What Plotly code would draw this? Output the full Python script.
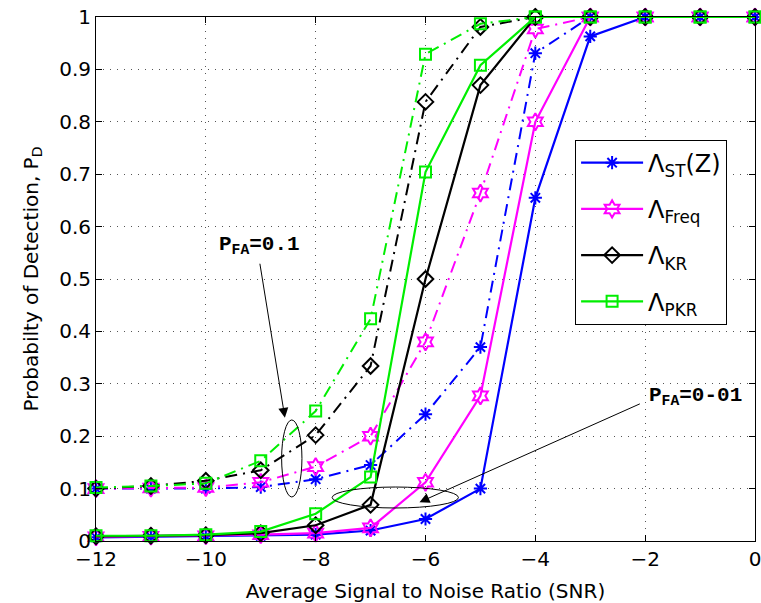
import plotly.graph_objects as go

snr = [-12, -11, -10, -9, -8, -7, -6, -5, -4, -3, -2, -1, 0]

# P_FA = 0.01 (solid)
st_001 = [0.007, 0.008, 0.009, 0.010, 0.012, 0.020, 0.042, 0.100, 0.655, 0.963, 1.0, 1.0, 1.0]
freq_001 = [0.008, 0.009, 0.010, 0.012, 0.015, 0.025, 0.112, 0.277, 0.800, 1.0, 1.0, 1.0, 1.0]
kr_001 = [0.009, 0.010, 0.011, 0.015, 0.030, 0.069, 0.500, 0.870, 1.0, 1.0, 1.0, 1.0, 1.0]
pkr_001 = [0.010, 0.010, 0.012, 0.018, 0.052, 0.122, 0.704, 0.908, 1.0, 1.0, 1.0, 1.0, 1.0]

# P_FA = 0.1 (dash-dot)
st_01 = [0.100, 0.100, 0.100, 0.103, 0.118, 0.145, 0.242, 0.370, 0.931, 1.0, 1.0, 1.0, 1.0]
freq_01 = [0.100, 0.101, 0.102, 0.112, 0.142, 0.200, 0.380, 0.664, 0.977, 1.0, 1.0, 1.0, 1.0]
kr_01 = [0.100, 0.105, 0.115, 0.135, 0.202, 0.334, 0.838, 0.981, 1.0, 1.0, 1.0, 1.0, 1.0]
pkr_01 = [0.102, 0.105, 0.110, 0.153, 0.248, 0.424, 0.929, 0.987, 1.0, 1.0, 1.0, 1.0, 1.0]

names = ["Λ<sub>ST</sub>(Z)", "Λ<sub>Freq</sub>", "Λ<sub>KR</sub>", "Λ<sub>PKR</sub>"]
colors = ["#0000ff", "#ff00ff", "#000000", "#00ee00"]
symbols = ["asterisk-open", "hexagram-open", "diamond-open", "square-open"]
msizes = [11, 13, 12, 11]
solid_sets = [st_001, freq_001, kr_001, pkr_001]
dash_sets = [st_01, freq_01, kr_01, pkr_01]

fig = go.Figure()
for i in range(4):
    fig.add_trace(go.Scatter(
        x=snr, y=dash_sets[i], mode="lines+markers", showlegend=False, cliponaxis=False,
        line=dict(color=colors[i], width=2, dash="12px,6px,2px,6px"),
        marker=dict(symbol=symbols[i], size=msizes[i], color=colors[i],
                    line=dict(color=colors[i], width=2))))
for i in range(4):
    fig.add_trace(go.Scatter(
        x=snr, y=solid_sets[i], mode="lines+markers", name=names[i], legendgroup="g%d" % i,
        cliponaxis=False,
        line=dict(color=colors[i], width=2.2),
        marker=dict(symbol=symbols[i], size=msizes[i], color=colors[i],
                    line=dict(color=colors[i], width=2))))

# ellipses
fig.add_shape(type="circle", xref="x", yref="y", x0=-8.62, x1=-8.25, y0=0.084, y1=0.231,
              line=dict(color="black", width=1))
fig.add_shape(type="circle", xref="x", yref="y", x0=-7.7, x1=-5.4, y0=0.063, y1=0.103,
              line=dict(color="black", width=1))

mono = dict(family="Liberation Mono, Courier New, monospace", size=21, color="black")
fig.add_annotation(x=-9.02, y=0.563, xref="x", yref="y", text="<b>P<sub>FA</sub>=0.1</b>",
                   showarrow=False, font=mono)
fig.add_annotation(x=-8.56, y=0.235, ax=-9.02, ay=0.532, xref="x", yref="y", axref="x", ayref="y",
                   text="", showarrow=True, arrowhead=2, arrowsize=2, arrowwidth=1, arrowcolor="black")
fig.add_annotation(x=-1.08, y=0.276, xref="x", yref="y", text="<b>P<sub>FA</sub>=0-01</b>",
                   showarrow=False, font=mono)
fig.add_annotation(x=-6.11, y=0.074, ax=-2.07, ay=0.263, xref="x", yref="y", axref="x", ayref="y",
                   text="", showarrow=True, arrowhead=2, arrowsize=2, arrowwidth=1, arrowcolor="black")

sans = "DejaVu Sans, Liberation Sans, Arial, sans-serif"
axis_common = dict(showline=True, linecolor="black", linewidth=1, mirror="allticks",
                   ticks="inside", ticklen=6, tickcolor="black",
                   showgrid=True, gridcolor="#555555", griddash="1px,6px", gridwidth=1.2,
                   zeroline=False, ticklabeloverflow="allow", automargin=False,
                   tickfont=dict(size=20, color="black", family=sans))
fig.update_xaxes(range=[-12, 0], tickvals=[-12, -10, -8, -6, -4, -2, 0],
                 ticktext=["−12", "−10", "−8", "−6", "−4", "−2", "0"],
                 title=dict(text="Average Signal to Noise Ratio (SNR)",
                            font=dict(size=20, color="black", family=sans)),
                 **axis_common)
fig.update_yaxes(range=[0, 1], tickvals=[0, 0.1, 0.2, 0.3, 0.4, 0.5, 0.6, 0.7, 0.8, 0.9, 1],
                 ticktext=["0", "0.1", "0.2", "0.3", "0.4", "0.5", "0.6", "0.7", "0.8", "0.9", "1"],
                 title=dict(text="Probabilty of Detection, P<sub>D</sub>",
                            font=dict(size=20, color="black", family=sans)),
                 **axis_common)

fig.update_layout(
    width=761, height=603,
    margin=dict(l=96, r=6, t=17, b=62),
    paper_bgcolor="white", plot_bgcolor="white",
    font=dict(family=sans, color="black"),
    legend=dict(x=0.727, y=0.766, xanchor="left", yanchor="top",
                bgcolor="white", bordercolor="black", borderwidth=1,
                font=dict(size=24, color="black", family=sans), tracegroupgap=12,
                itemwidth=62),
)

fig.write_html("out.html", config={"displayModeBar": False},
               post_script="document.body.style.margin='0px';document.body.style.overflow='hidden';")
